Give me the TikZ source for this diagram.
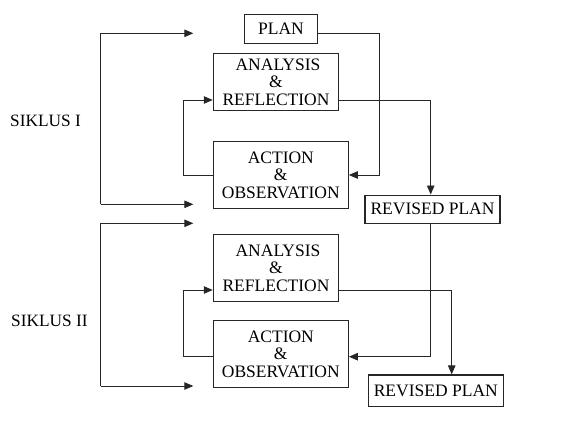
\documentclass[tikz,border=0pt]{standalone}
\usepackage{fontspec}
\setmainfont{Liberation Serif}
\usetikzlibrary{arrows.meta,calc}
\begin{document}
\begin{tikzpicture}[x=1pt,y=-1pt,
  box/.style={draw=black!85,line width=1.1pt,inner sep=0pt,align=center,
    font=\fontsize{17.5}{17.5}\selectfont},
  conn/.style={draw=black!85,line width=0.9pt},
  arr/.style={conn,-{Triangle[length=9pt,width=7.5pt]}},
  lbl/.style={anchor=west,inner sep=0pt,font=\fontsize{17.3}{17.3}\selectfont}]
\useasboundingbox (0,0) rectangle (572,426);
% boxes
\node[box,minimum width=72.4pt,minimum height=29pt] (plan) at (281,28.8) {PLAN};
\node[box,minimum width=125.4pt,minimum height=57.4pt] (an1) at (276,82) {\hspace*{4pt}ANALYSIS\\\&\\REFLECTION};
\node[box,minimum width=135pt,minimum height=66.6pt] (ac1) at (280.8,175) {ACTION\\\&\\OBSERVATION};
\node[box,minimum width=135pt,minimum height=28.3pt] (rv1) at (432.5,209.2) {REVISED PLAN};
\node[box,minimum width=125.4pt,minimum height=67.4pt] (an2) at (276,268) {\hspace*{4pt}ANALYSIS\\\&\\REFLECTION};
\node[box,minimum width=135pt,minimum height=67pt] (ac2) at (280.8,354.2) {ACTION\\\&\\OBSERVATION};
\node[box,minimum width=135pt,minimum height=31.7pt] (rv2) at (435.8,390.8) {REVISED PLAN};
% labels
\node[lbl] (s1) at (10,120.5) {SIKLUS I};
\node[lbl] (s2) at (11,321) {SIKLUS II};
% brackets
\coordinate (b1t) at (100.7,33.3);
\coordinate (b1b) at (100.7,204.3);
\coordinate (e1t) at (193.3,33.3);
\coordinate (e1b) at (193.3,204.3);
\draw[arr] (b1b) -- (b1t) -- (e1t);
\draw[arr] (b1b) -- (e1b);
\coordinate (b2t) at (100.7,223.3);
\coordinate (b2b) at (100.7,386);
\coordinate (e2t) at (193.3,223.3);
\coordinate (e2b) at (193.3,386);
\draw[arr] (b2b) -- (b2t) -- (e2t);
\draw[arr] (b2b) -- (e2b);
% cycle I
\draw[arr] (ac1.west) -- (183.3,175) -- (183.3,100) -- ($(an1.west)+(0,18)$);
\draw[arr] ($(plan.east)+(0,4.5)$) -- (379,33.3) -- (379,175) -- (ac1.east);
\draw[arr] ($(an1.east)+(0,18)$) -- (430.7,100) -- (rv1.north -| 430.7,0);
% cycle II
\draw[arr] ($(ac2.west)+(0,2.5)$) -- (183.3,356.7) -- (183.3,290) -- ($(an2.west)+(0,22)$);
\draw[arr] (rv1.south -| 430.7,0) -- (430.7,356.7) -- ($(ac2.east)+(0,2.5)$);
\draw[arr] ($(an2.east)+(0,22)$) -- (451.7,290) -- (rv2.north -| 451.7,0);
\end{tikzpicture}
\end{document}
